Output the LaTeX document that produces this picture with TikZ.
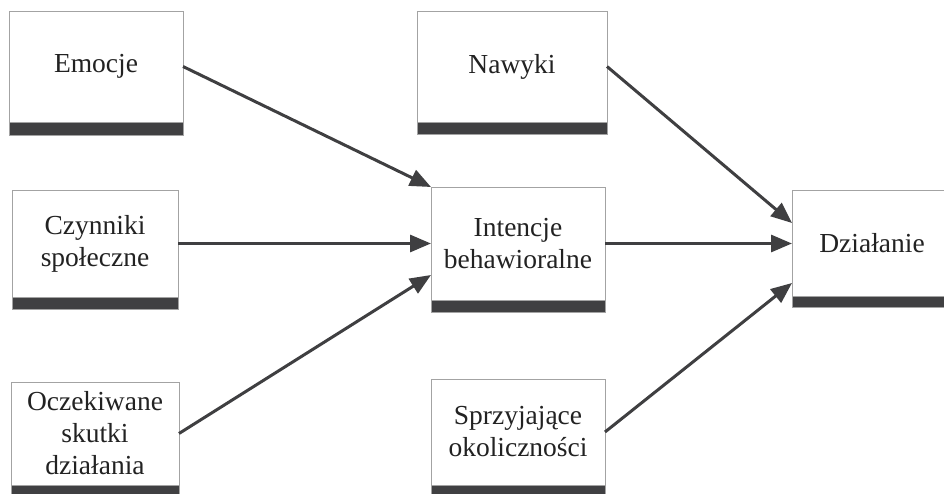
\documentclass[tikz,border=0pt]{standalone}
\usepackage{fontspec}
\setmainfont{Liberation Serif}
\usetikzlibrary{arrows.meta}
\definecolor{frame}{HTML}{A3A3A3}
\definecolor{barfill}{HTML}{404042}
\definecolor{arrowc}{HTML}{3F3F41}
\definecolor{txt}{HTML}{222222}
\tikzset{
  box/.style={draw=frame, line width=0.9pt, fill=white, inner sep=0pt, outer sep=0pt,
    align=center, text=txt, font=\fontsize{27.5}{32}\selectfont},
  arr/.style={draw=arrowc, line width=3pt, -{Triangle[length=21pt,width=17pt]}},
}
\begin{document}
\begin{tikzpicture}[x=1pt,y=-1pt]
\useasboundingbox (0,0) rectangle (944,494);
% boxes (white part; the dark bar is added below)
\node[box, minimum width=174pt, minimum height=111pt] (emo) at (96,66.5) {Emocje};
\node[box, minimum width=166pt, minimum height=107pt] (czy) at (95,243.5) {Czynniki\\społeczne};
\node[box, minimum width=168pt, minimum height=103pt] (ocz) at (95,433.5) {Oczekiwane\\skutki\\działania};
\node[box, minimum width=190pt, minimum height=111pt] (naw) at (512,66.5) {Nawyki};
\node[box, minimum width=174pt, minimum height=113pt] (int) at (518,243.5) {Intencje\\behawioralne};
\node[box, minimum width=174pt, minimum height=106pt] (spr) at (518,432) {Sprzyjające\\okoliczności};
\node[box, minimum width=160pt, minimum height=106pt] (dzi) at (872,243.5) {Działanie};
% dark bars under each box
\foreach \n/\h in {emo/13, czy/12, ocz/14, naw/12, int/12, spr/14, dzi/11}
  \filldraw[fill=barfill, draw=frame, line width=0.9pt] (\n.south west) rectangle ([yshift=-\h pt]\n.south east);
% connectors
\draw[arr] (emo.east) -- (int.north west);
\draw[arr] (czy.east) -- (int.west);
\draw[arr] (ocz.east) -- ([yshift=-31.5pt]int.west);
\draw[arr] (naw.east) -- ([yshift=20.5pt]dzi.west);
\draw[arr] (int.east) -- (dzi.west);
\draw[arr] (spr.east) -- ([yshift=-39.5pt]dzi.west);
\end{tikzpicture}
\end{document}
